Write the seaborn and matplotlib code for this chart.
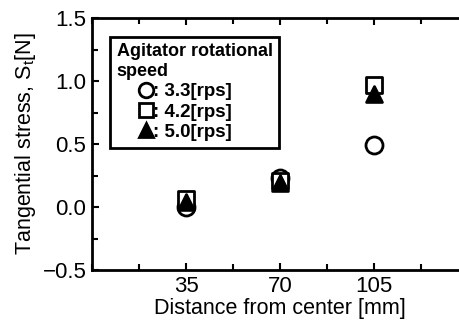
import matplotlib
matplotlib.use("Agg")
import matplotlib.pyplot as plt
import seaborn as sns
import pandas as pd
from matplotlib.ticker import MultipleLocator
from matplotlib.lines import Line2D

distance = [35, 70, 105]
speed_labels = ["3.3[rps]", "4.2[rps]", "5.0[rps]"]
stress_33 = [0.00, 0.23, 0.49]
stress_42 = [0.06, 0.21, 0.97]
stress_50 = [0.04, 0.19, 0.90]

sns.set_theme(style="ticks")
plt.rcParams['font.family'] = ['Liberation Sans', 'DejaVu Sans']
plt.rcParams['text.color'] = 'black'
plt.rcParams['axes.labelcolor'] = 'black'

fig = plt.figure(figsize=(4.6, 3.33), dpi=100)
ax = fig.add_axes([92 / 460, 1 - 270 / 333, (468 - 92) / 460, (270 - 18) / 333])

styles = [
    (stress_33, "o", "white", 150),
    (stress_42, "s", "white", 120),
    (stress_50, "^", "black", 130),
]
handles = []
for vals, mk, fc, s in styles:
    df = pd.DataFrame({"x": distance, "y": vals})
    sns.scatterplot(data=df, x="x", y="y", ax=ax, marker=mk, s=s,
                    facecolor=fc, edgecolor="black", linewidth=2, zorder=3)
    handles.append(Line2D([], [], ls="none", marker=mk, markersize=10.5,
                          markerfacecolor=fc, markeredgecolor="black",
                          markeredgewidth=2))
ax.collections[2].set_zorder(4)

ax.set_xlim(0, 140)
ax.set_ylim(-0.5, 1.5)
ax.set_xticks(distance)
ax.xaxis.set_minor_locator(MultipleLocator(17.5))
ax.yaxis.set_major_locator(MultipleLocator(0.5))
ax.yaxis.set_minor_locator(MultipleLocator(0.25))
ax.tick_params(which="both", direction="in", top=True, right=True,
               width=1.5, colors="black")
ax.tick_params(which="major", length=5, labelsize=16, pad=4)
ax.tick_params(which="minor", length=4)
for sp in ax.spines.values():
    sp.set_linewidth(2)
    sp.set_color("black")

ax.set_xlabel("Distance from center [mm]", fontsize=15.5, labelpad=1)
ax.set_ylabel("Tangential stress, S$_\\mathregular{t}$[N]", fontsize=15.5, labelpad=3)

leg = ax.legend(handles, [": " + l for l in speed_labels],
                title="Agitator rotational\nspeed", loc="upper left",
                bbox_to_anchor=(0.048, 0.925), frameon=True, fancybox=False,
                framealpha=1, handletextpad=-1.15, handlelength=3.1,
                borderpad=0.35, labelspacing=0.17,
                prop={"weight": "bold", "size": 13.5},
                title_fontproperties={"weight": "bold", "size": 13},
                alignment="left", borderaxespad=0)
leg.get_frame().set_edgecolor("black")
leg.get_frame().set_linewidth(2)

fig.savefig("out.png", dpi=100)
